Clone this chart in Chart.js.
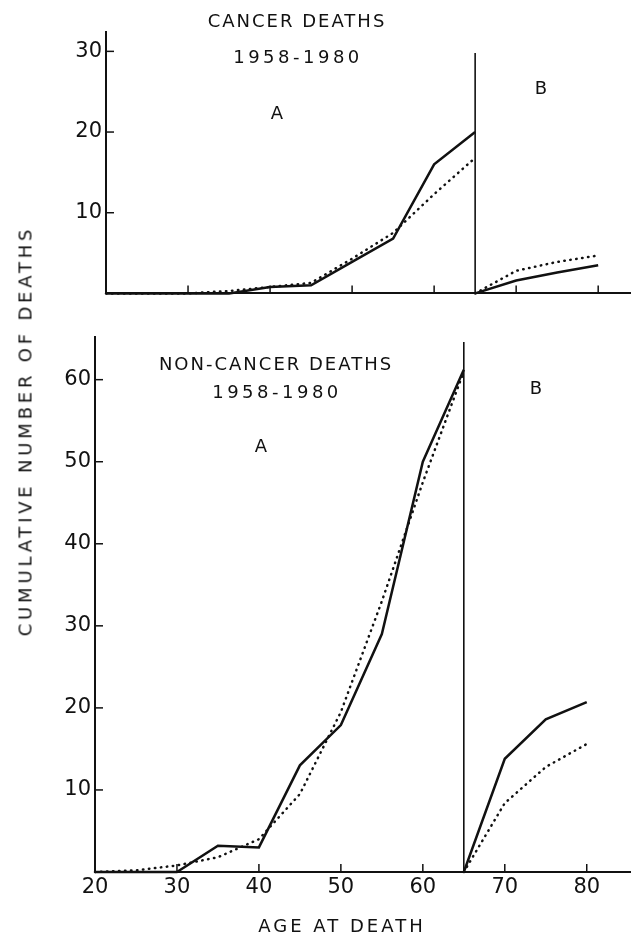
<!DOCTYPE html>
<html>
<head>
<meta charset="utf-8">
<script src="https://cdn.jsdelivr.net/npm/chart.js@4.4.1/dist/chart.umd.min.js"></script>
<style>
body { margin: 0; background: #fff; }
#wrap { position: relative; width: 631px; height: 938px; overflow: hidden; font-family: "DejaVu Sans", sans-serif; color: #111; }
.lbl { position: absolute; transform: translate(-50%, -50%); white-space: nowrap; font-size: 18px; letter-spacing: 2px; }
.yrs { letter-spacing: 3.5px; }
.wide { letter-spacing: 3px; }
.ytitle { transform: translate(-50%, -50%) rotate(-90deg); letter-spacing: 3.8px; }
canvas { position: absolute; left: 0; }
</style>
</head>
<body>
<div id="wrap">
    <canvas id="topChart" width="631" height="310" style="top:0px"></canvas>
    <canvas id="botChart" width="631" height="618" style="top:320px"></canvas>

    <div class="lbl" style="left:297px;top:20px">CANCER DEATHS</div>
    <div class="lbl yrs" style="left:298px;top:56px">1958-1980</div>
    <div class="lbl" style="left:278px;top:112px">A</div>
    <div class="lbl" style="left:542px;top:87px">B</div>

    <div class="lbl" style="left:276px;top:363px">NON-CANCER DEATHS</div>
    <div class="lbl yrs" style="left:277px;top:391px">1958-1980</div>
    <div class="lbl" style="left:262px;top:445px">A</div>
    <div class="lbl" style="left:537px;top:387px">B</div>

    <div class="lbl wide" style="left:342px;top:925px">AGE AT DEATH</div>
    <div class="lbl ytitle" style="left:25px;top:431px">CUMULATIVE NUMBER OF DEATHS</div>
</div>
<script>
// ages (x) for period A (before 65) and B (after 65)
const agesA = [20, 25, 30, 35, 40, 45, 50, 55, 60, 65];
const agesB = [65, 70, 75, 80];

// cancer deaths: observed (solid) and expected (dotted)
const cancerObsA = [0, 0, 0, 0, 0.8, 1, 3.9, 6.8, 16, 20];
const cancerExpA = [0, 0, 0, 0.3, 0.8, 1.3, 4.3, 7.5, 12.3, 16.8];
const cancerObsB = [0, 1.6, 2.6, 3.5];
const cancerExpB = [0, 2.8, 3.9, 4.7];

// non-cancer deaths
const nonCancerObsA = [0, 0, 0, 3.2, 3, 13, 17.9, 29, 50, 61.2];
const nonCancerExpA = [0, 0.2, 0.8, 1.8, 4, 9.5, 19.5, 33, 47.5, 61];
const nonCancerObsB = [0, 13.8, 18.6, 20.7];
const nonCancerExpB = [0, 8.4, 12.8, 15.6];

// divider at age 65
const dividerAge = 65;
const topDividerHeight = [0, 29.8];
const botDividerHeight = [0, 64.6];

// tick marks drawn inside the axes
const topXTicks = [30, 40, 50, 60, 70, 80];
const topYTicks = [10, 20, 30];
const botXTicks = [30, 40, 50, 60, 70, 80];
const botYTicks = [10, 20, 30, 40, 50, 60];

const ink = '#111';
const fontFam = '"DejaVu Sans", sans-serif';

function pts(xs, ys) {
    return xs.map((x, i) => ({ x: x, y: ys[i] }));
}

const innerTicks = {
    id: 'innerTicks',
    afterDraw(chart, args, opts) {
        const { ctx, chartArea, scales } = chart;
        ctx.save();
        ctx.strokeStyle = ink;
        ctx.lineWidth = 1.5;
        opts.xTicks.forEach(v => {
            const px = scales.x.getPixelForValue(v);
            ctx.beginPath();
            ctx.moveTo(px, chartArea.bottom);
            ctx.lineTo(px, chartArea.bottom - 8);
            ctx.stroke();
        });
        opts.yTicks.forEach(v => {
            const py = scales.y.getPixelForValue(v);
            ctx.beginPath();
            ctx.moveTo(chartArea.left, py);
            ctx.lineTo(chartArea.left + 8, py);
            ctx.stroke();
        });
        ctx.restore();
    }
};

function solid(data) {
    return { data: data, borderColor: ink, borderWidth: 2.5, pointRadius: 0, fill: false, clip: 6 };
}
function dotted(data) {
    return { data: data, borderColor: ink, borderWidth: 2.5, borderDash: [0.5, 5.5], borderCapStyle: 'round', pointRadius: 0, fill: false, clip: 6 };
}
function divider(h) {
    return { data: [{ x: dividerAge, y: h[0] }, { x: dividerAge, y: h[1] }], borderColor: ink, borderWidth: 1.6, pointRadius: 0, fill: false, clip: 6 };
}

function makeChart(id, cfg) {
    return new Chart(document.getElementById(id), {
        type: 'line',
        data: { datasets: cfg.datasets },
        options: {
            responsive: false,
            animation: false,
            layout: { padding: { top: cfg.padTop, left: 0, right: 0, bottom: 0 } },
            plugins: {
                legend: { display: false },
                tooltip: { enabled: false },
                innerTicks: { xTicks: cfg.xTicks, yTicks: cfg.yTicks }
            },
            scales: {
                x: {
                    type: 'linear',
                    min: 20,
                    max: cfg.xMax,
                    border: { display: true, color: ink, width: 2 },
                    grid: { display: false, drawTicks: false },
                    ticks: {
                        display: cfg.xLabels,
                        stepSize: 10,
                        includeBounds: false,
                        maxRotation: 0,
                        padding: 3,
                        color: ink,
                        font: { family: fontFam, size: 21 }
                    },
                    afterFit: s => { s.height = cfg.xHeight; }
                },
                y: {
                    type: 'linear',
                    min: 0,
                    max: cfg.yMax,
                    border: { display: true, color: ink, width: 2 },
                    grid: { display: false, drawTicks: false },
                    ticks: {
                        stepSize: 10,
                        includeBounds: false,
                        padding: 4,
                        color: ink,
                        font: { family: fontFam, size: 21 },
                        callback: v => (v === 0 ? '' : v)
                    },
                    afterFit: s => { s.width = cfg.yWidth; }
                }
            }
        },
        plugins: [innerTicks]
    });
}

makeChart('topChart', {
    datasets: [
        solid(pts(agesA, cancerObsA)),
        dotted(pts(agesA, cancerExpA)),
        solid(pts(agesB, cancerObsB)),
        dotted(pts(agesB, cancerExpB)),
        divider(topDividerHeight)
    ],
    padTop: 32,
    xMax: 84,
    yMax: 32.4,
    xLabels: false,
    xHeight: 12,
    yWidth: 106,
    xTicks: topXTicks,
    yTicks: topYTicks
});

makeChart('botChart', {
    datasets: [
        solid(pts(agesA, nonCancerObsA)),
        dotted(pts(agesA, nonCancerExpA)),
        solid(pts(agesB, nonCancerObsB)),
        dotted(pts(agesB, nonCancerExpB)),
        divider(botDividerHeight)
    ],
    padTop: 17,
    xMax: 85.4,
    yMax: 65.2,
    xLabels: true,
    xHeight: 66,
    yWidth: 95,
    xTicks: botXTicks,
    yTicks: botYTicks
});
</script>
</body>
</html>
